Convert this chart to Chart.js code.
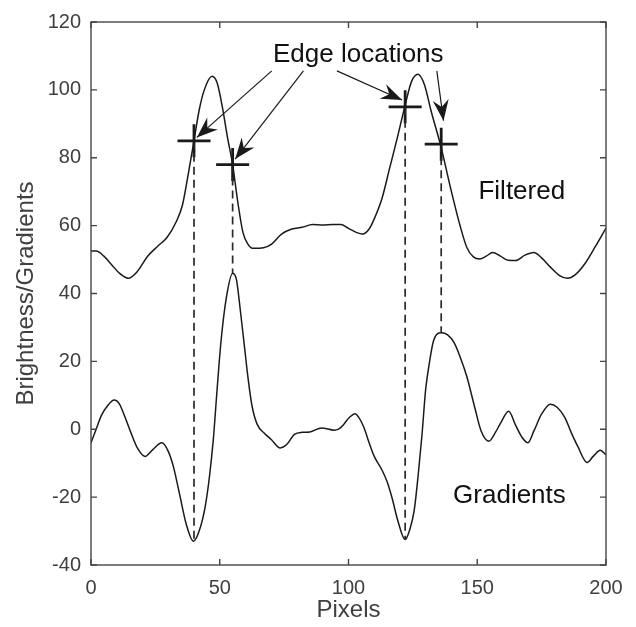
<!DOCTYPE html>
<html>
<head>
<meta charset="utf-8">
<script src="https://cdn.jsdelivr.net/npm/chart.js@4.4.1/dist/chart.umd.min.js"></script>
<style>
  body { margin: 0; background: #fff; }
  canvas { display: block; }
</style>
</head>
<body>
<canvas id="chart" width="636" height="627"></canvas>
<script>
// filtered brightness profile
const filteredX = [0, 2, 5, 8, 11, 14.5, 18, 22, 26, 29.5, 33, 35.5, 37.5, 40, 42, 44, 47, 49, 51, 53, 55, 57, 59, 61, 63, 67, 70, 74, 78, 82, 86, 90, 94, 97, 100, 103, 105.5, 108, 110, 113, 116, 119, 122, 124.5, 127, 129.5, 132, 136, 139.5, 143.5, 146, 148.5, 151, 153.5, 156, 159, 162, 165, 168.5, 172, 175, 178.5, 182, 185, 188, 192, 196, 200];
const filteredY = [52.5, 52.5, 51, 48.5, 46, 44.5, 46.5, 51, 54, 56.5, 61, 66, 74, 85, 94, 100, 104, 102, 95, 86, 78, 67, 58, 54.5, 53.3, 53.5, 54.5, 57.5, 59, 59.5, 60.3, 60.2, 60.3, 60.3, 59.2, 58, 57.5, 59, 62, 68, 77, 86, 95.5, 102.5, 104.6, 101.5, 94, 83, 71.5, 59.5, 53.5, 50.8, 50.2, 51, 52.1, 51, 49.8, 49.7, 51.3, 52.1, 50.5, 47.7, 45.3, 44.5, 45.5, 49, 54, 59.3];

// gradient profile
const gradX = [0, 2, 4, 6.5, 9, 11, 13, 15.5, 18, 21, 24, 27.5, 30, 32, 34.5, 37, 39.8, 42, 44.3, 46, 47.5, 49, 50.5, 52.5, 55, 56.5, 58, 59.5, 61, 62.5, 64.5, 67.5, 70, 73.5, 76, 79, 82, 85, 89.5, 94.5, 97, 100.5, 102.5, 104, 106, 108, 110, 113, 115, 117, 119, 122, 124, 125.5, 127, 128.5, 130, 131.5, 133, 136, 138.5, 141, 143.5, 146, 149, 151.5, 154.5, 157, 159, 162.2, 165, 167.5, 169.7, 172, 175, 178.4, 181, 184, 186.5, 189, 192.7, 195, 197.8, 200];
const gradY = [-4, 0, 4, 7, 8.6, 7.5, 4, -1, -5.5, -8, -6, -4, -6.5, -11, -19.5, -28, -33, -30, -23, -14, -3, 12, 26, 38.5, 46, 44, 35, 25, 15, 7, 1.5, -1.3, -3, -5.5, -4.5, -1.5, -0.9, -0.8, 0.4, -0.3, 0.5, 3.6, 4.6, 3.5, 0.5, -4, -8, -12, -15.5, -20.5, -26.5, -32.5, -29, -24, -14, -2, 12, 20, 26, 28.4, 27.8, 25.5, 21, 15.4, 6.5, -0.5, -3.5, -1, 1.7, 5.3, 1, -2.5, -4, -0.5, 4.5, 7.4, 6.5, 3.5, -1, -5, -9.8, -8, -6.2, -7.6];

// detected edges: marker on filtered curve, dashed line down to gradient extremum
const edgeX = [40, 55, 122, 136];
const edgeTopY = [85, 78, 95, 84];
const edgeBottomY = [-33, 46, -32.5, 28.4];

// annotation arrows (start near the label, tip at the marker)
const arrowStartX = [70.2, 82.5, 95.5, 134.3];
const arrowStartY = [105.6, 105.6, 105.6, 105.6];
const arrowTipX = [41.1, 56, 120.8, 136.9];
const arrowTipY = [86, 79.6, 97, 90.9];

const xTicks = [0, 50, 100, 150, 200];
const yTicks = [-40, -20, 0, 20, 40, 60, 80, 100, 120];

const ink = "#1a1a1a";
const axisColor = "#454545";
const labelColor = "#404040";
const fontFamily = "'Liberation Sans', Arial, sans-serif";

const toPoints = (xs, ys) => xs.map((x, i) => ({ x: x, y: ys[i] }));

const datasets = [
  {
    label: "Filtered",
    data: toPoints(filteredX, filteredY),
    borderColor: ink,
    borderWidth: 1.5,
    pointRadius: 0,
    cubicInterpolationMode: "monotone",
  },
  {
    label: "Gradients",
    data: toPoints(gradX, gradY),
    borderColor: ink,
    borderWidth: 1.5,
    pointRadius: 0,
    cubicInterpolationMode: "monotone",
  },
];

// dashed drop lines
edgeX.forEach((x, i) => {
  datasets.push({
    label: "drop" + i,
    data: [{ x: x, y: edgeTopY[i] }, { x: x, y: edgeBottomY[i] }],
    borderColor: "#2a2a2a",
    borderWidth: 1.7,
    borderDash: [8, 5],
    pointRadius: 0,
  });
});

// arrow shafts
arrowStartX.forEach((x, i) => {
  datasets.push({
    label: "arrow" + i,
    data: [{ x: x, y: arrowStartY[i] }, { x: arrowTipX[i], y: arrowTipY[i] }],
    borderColor: ink,
    borderWidth: 1.2,
    pointRadius: 0,
  });
});

// edge markers
datasets.push({
  label: "Edges",
  type: "scatter",
  data: toPoints(edgeX, edgeTopY),
  pointStyle: "cross",
  pointRadius: 16.5,
  pointBorderWidth: 2.8,
  borderColor: ink,
  backgroundColor: ink,
});

// box, inward ticks, arrow heads and text labels
const decorPlugin = {
  id: "decor",
  afterDatasetsDraw(chart) {
    const { ctx, chartArea: a, scales } = chart;
    const sx = scales.x, sy = scales.y;
    ctx.save();

    // arrow heads
    ctx.fillStyle = ink;
    arrowTipX.forEach((tx, i) => {
      const x1 = sx.getPixelForValue(arrowStartX[i]);
      const y1 = sy.getPixelForValue(arrowStartY[i]);
      const x2 = sx.getPixelForValue(tx);
      const y2 = sy.getPixelForValue(arrowTipY[i]);
      const ang = Math.atan2(y2 - y1, x2 - x1);
      const len = 21, half = 8, back = 14;
      ctx.save();
      ctx.translate(x2, y2);
      ctx.rotate(ang);
      ctx.beginPath();
      ctx.moveTo(0, 0);
      ctx.lineTo(-len, -half);
      ctx.lineTo(-back, 0);
      ctx.lineTo(-len, half);
      ctx.closePath();
      ctx.fill();
      ctx.restore();
    });

    // text labels
    ctx.fillStyle = "#111";
    ctx.font = "26px " + fontFamily;
    ctx.textAlign = "center";
    ctx.textBaseline = "middle";
    ctx.fillText("Edge locations", sx.getPixelForValue(103.8), sy.getPixelForValue(110.3));
    ctx.fillText("Filtered", sx.getPixelForValue(167.3), sy.getPixelForValue(70));
    ctx.fillText("Gradients", sx.getPixelForValue(162.5), sy.getPixelForValue(-19.7));

    // axes box
    ctx.strokeStyle = axisColor;
    ctx.lineWidth = 1.4;
    ctx.strokeRect(a.left, a.top, a.right - a.left, a.bottom - a.top);

    // inward ticks on all four sides
    const tl = 6;
    ctx.beginPath();
    xTicks.forEach((v) => {
      const px = sx.getPixelForValue(v);
      ctx.moveTo(px, a.bottom); ctx.lineTo(px, a.bottom - tl);
      ctx.moveTo(px, a.top); ctx.lineTo(px, a.top + tl);
    });
    yTicks.forEach((v) => {
      const py = sy.getPixelForValue(v);
      ctx.moveTo(a.left, py); ctx.lineTo(a.left + tl, py);
      ctx.moveTo(a.right, py); ctx.lineTo(a.right - tl, py);
    });
    ctx.stroke();
    ctx.restore();
  },
};

new Chart(document.getElementById("chart"), {
  type: "line",
  data: { datasets: datasets },
  options: {
    responsive: false,
    animation: false,
    devicePixelRatio: 1,
    layout: { padding: { top: 21, right: 30, left: 0, bottom: 0 } },
    plugins: { legend: { display: false }, tooltip: { enabled: false } },
    scales: {
      x: {
        type: "linear",
        min: 0,
        max: 200,
        afterBuildTicks: (scale) => { scale.ticks = xTicks.map((v) => ({ value: v })); },
        afterFit: (scale) => { scale.height = 62; },
        grid: { display: false, drawTicks: false, tickLength: 0 },
        border: { display: false },
        ticks: { color: labelColor, font: { size: 20, family: fontFamily }, padding: 11, maxRotation: 0 },
        title: { display: true, text: "Pixels", color: labelColor, font: { size: 24, family: fontFamily }, padding: { top: 0, bottom: 2 } },
      },
      y: {
        type: "linear",
        min: -40,
        max: 120,
        afterBuildTicks: (scale) => { scale.ticks = yTicks.map((v) => ({ value: v })); },
        afterFit: (scale) => { scale.width = 91; },
        grid: { display: false, drawTicks: false, tickLength: 0 },
        border: { display: false },
        ticks: { color: labelColor, font: { size: 20, family: fontFamily }, padding: 10 },
        title: { display: true, text: "Brightness/Gradients", color: labelColor, font: { size: 24, family: fontFamily }, padding: { top: 12, bottom: 0 } },
      },
    },
  },
  plugins: [decorPlugin],
});
</script>
</body>
</html>
